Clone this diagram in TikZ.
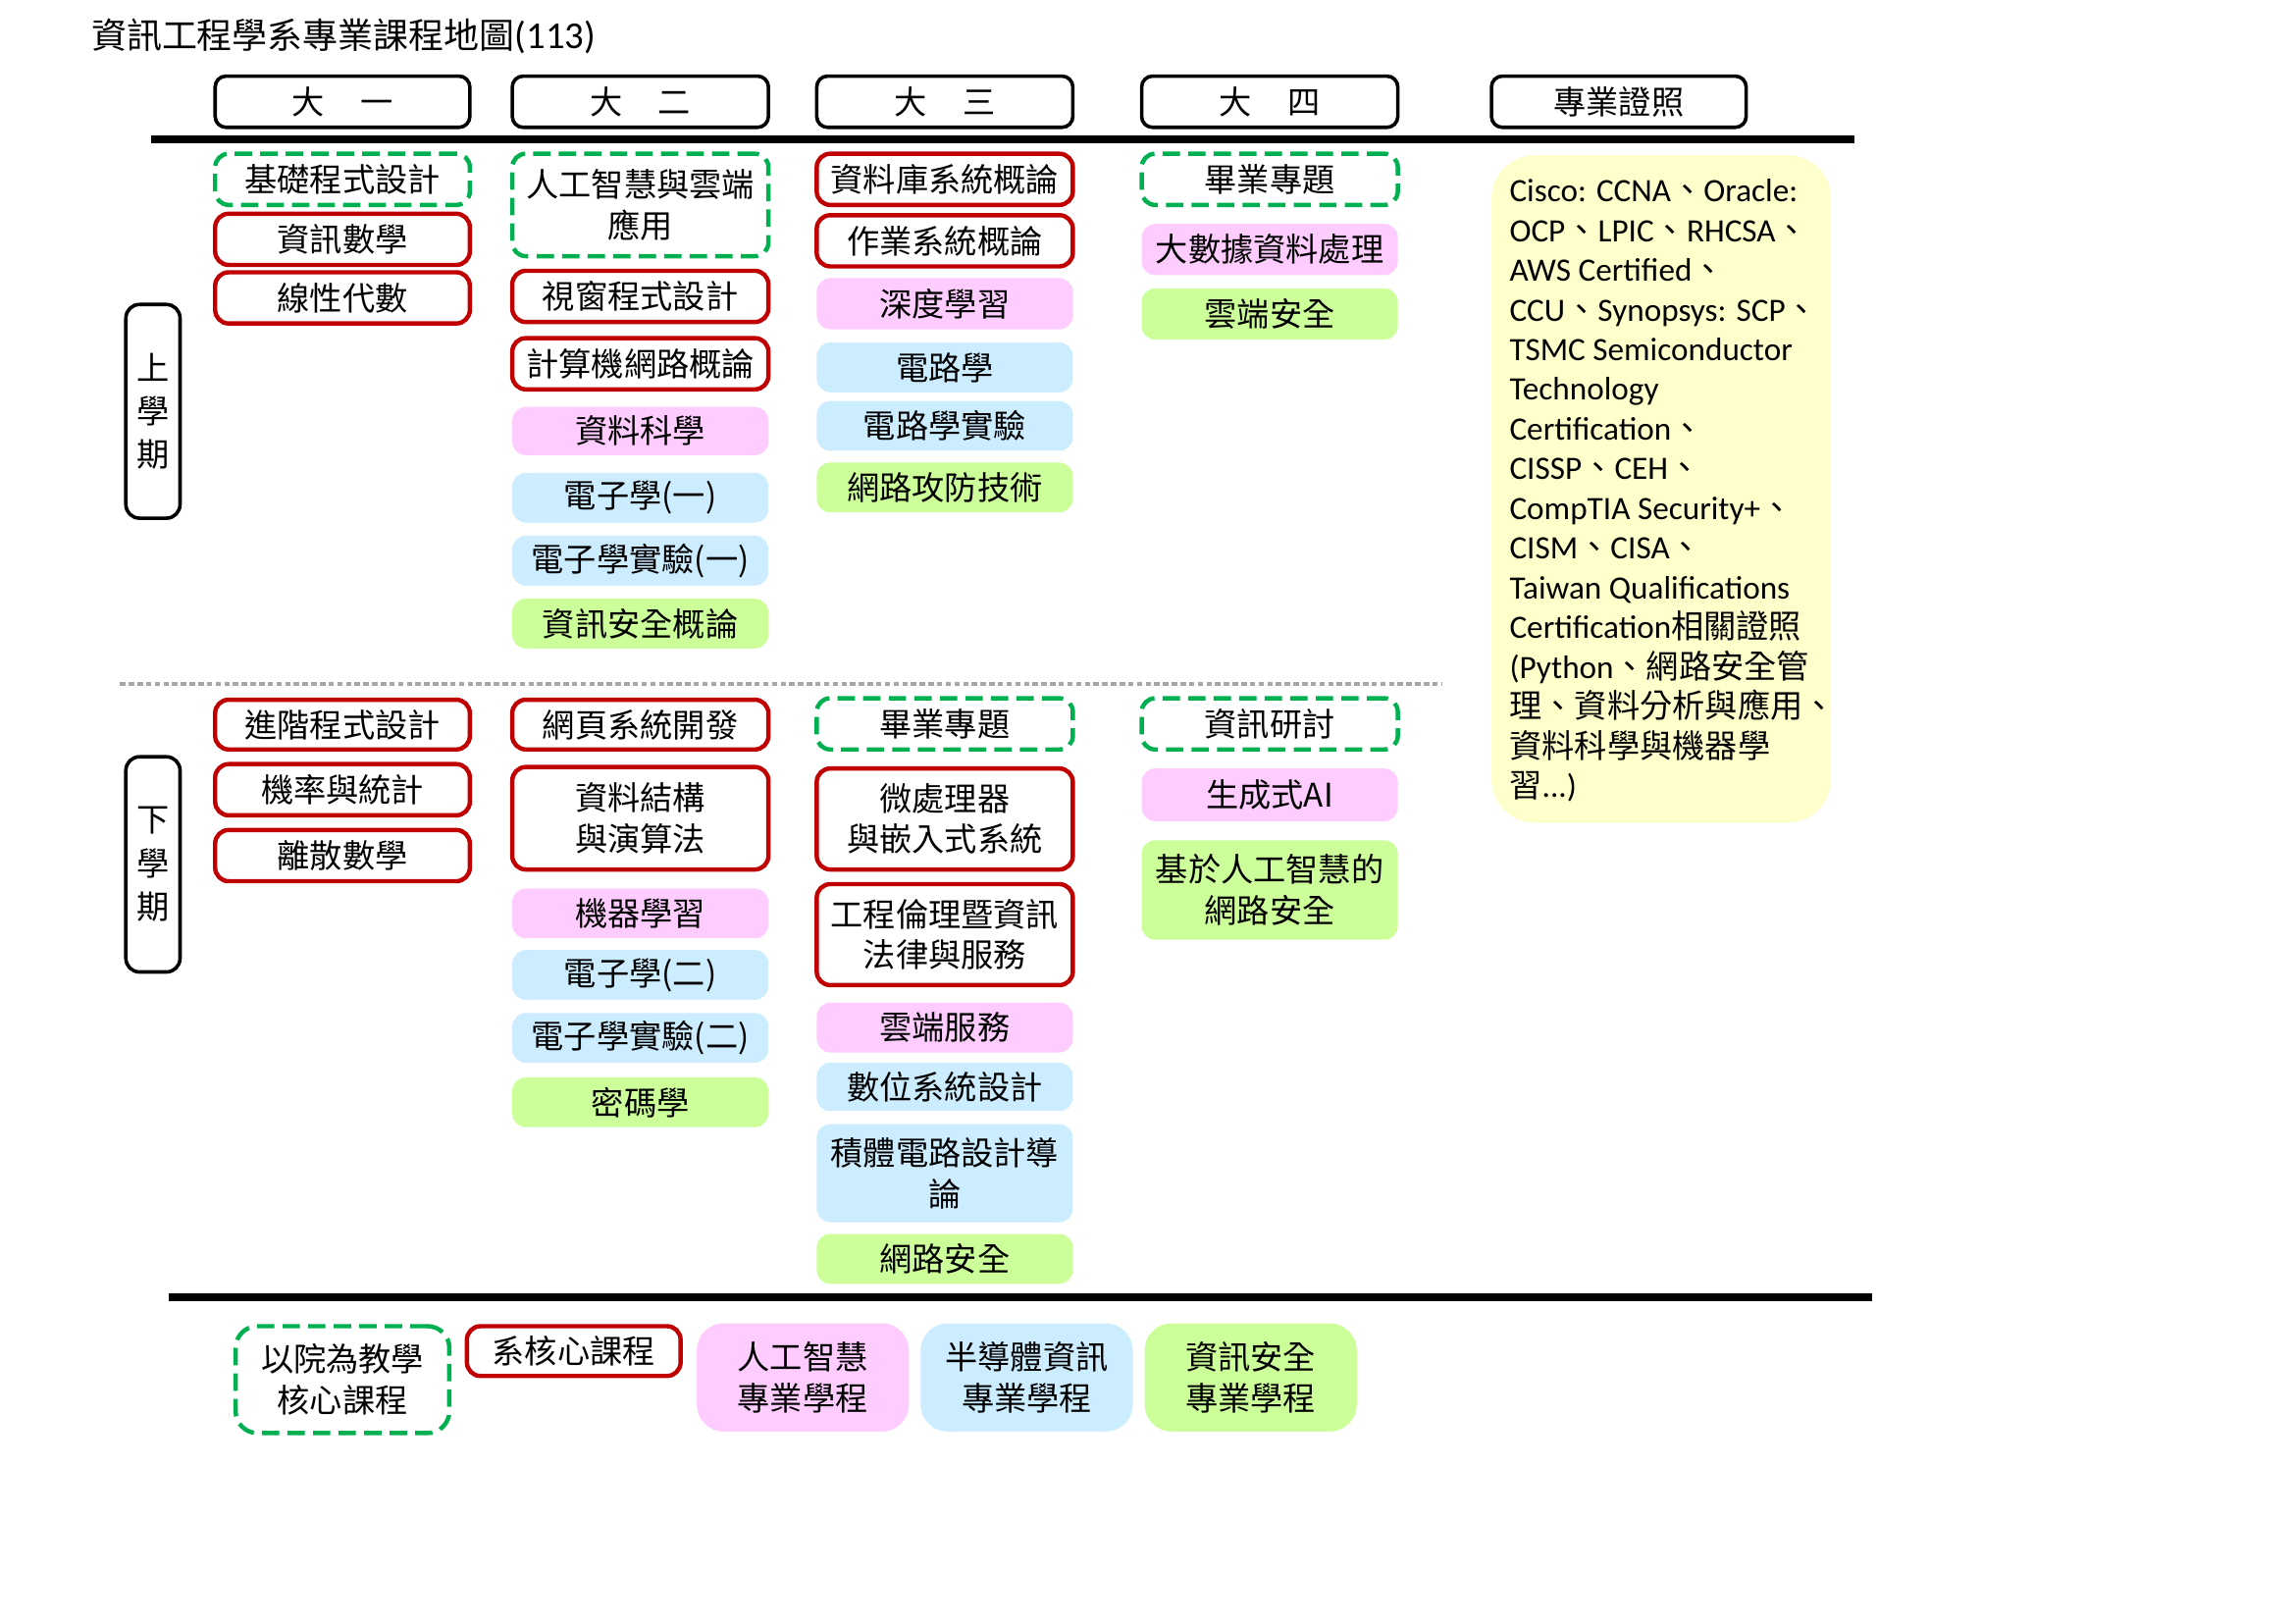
\documentclass[tikz,border=0pt]{standalone}
\usepackage{fontspec}
\setmainfont{Noto Sans CJK TC}
\newfontfamily\carlito{Carlito}
\newfontfamily\cjkf{Noto Sans CJK TC}
\definecolor{cred}{RGB}{192,0,0}
\definecolor{cgreen}{RGB}{0,176,80}
\definecolor{cpink}{RGB}{255,204,255}
\definecolor{cblue}{RGB}{204,236,255}
\definecolor{clime}{RGB}{204,255,153}
\definecolor{cyellow}{RGB}{255,255,204}
\definecolor{cgray}{RGB}{166,166,166}
\newcommand\crs[7]{\node[#2, minimum width={(#5-#3)*0.18941mm}, minimum height={(#6-#4)*0.18941mm}] (#1) at ({(#3+#5)/2},{(#4+#6)/2}) {#7};}
\newcommand\dun{{\cjkf 、}}
\begin{document}
\begin{tikzpicture}[x=0.18941mm, y=-0.18941mm,
  cbase/.style={inner sep=0pt, align=center, font=\fontsize{12}{15}\selectfont},
  redc/.style={cbase, draw=cred, line width=1.6pt, rounded corners=5pt, fill=white},
  dashc/.style={cbase, draw=cgreen, line width=1.6pt, dash pattern=on 6.4pt off 3pt, rounded corners=5pt, fill=white},
  pinkc/.style={cbase, fill=cpink, rounded corners=5pt},
  bluec/.style={cbase, fill=cblue, rounded corners=5pt},
  limec/.style={cbase, fill=clime, rounded corners=5pt},
  headc/.style={cbase, draw=black, line width=1.3pt, rounded corners=4pt},
  semc/.style={cbase, draw=black, line width=1.3pt, rounded corners=5pt, font=\fontsize{12}{16}\selectfont},
  certc/.style={cbase, fill=cyellow, rounded corners=16pt},
  rule/.style={line width=1mm},
  dotrule/.style={draw=cgray, line width=1.5pt, dash pattern=on 2pt off 1.2pt}
]
\useasboundingbox (0,0) rectangle (1568,1109);

% title
\node[anchor=west, inner sep=0pt, font=\fontsize{13}{15}\selectfont] (title) at (62,25) {資訊工程學系專業課程地圖{\carlito\fontsize{14}{15}\selectfont (113)}};

% headers
\crs{h1}{headc}{147}{52}{321}{87}{大\hspace{1.1em}一}
\crs{h2}{headc}{350}{52}{525}{87}{大\hspace{1.1em}二}
\crs{h3}{headc}{558}{52}{733}{87}{大\hspace{1.1em}三}
\crs{h4}{headc}{780}{52}{955}{87}{大\hspace{1.1em}四}
\crs{h5}{headc}{1019}{52}{1193}{87}{專業證照}

% rules
\coordinate (r1a) at (103,95); \coordinate (r1b) at (1267,95);
\coordinate (r2a) at (115,886); \coordinate (r2b) at (1279,886);
\coordinate (r3a) at (82,467); \coordinate (r3b) at (985,467);
\draw[rule] (r1a) -- (r1b);
\draw[rule] (r2a) -- (r2b);
\draw[dotrule] (r3a) -- (r3b);

% semesters
\crs{s1}{semc}{86}{208}{123}{354}{上\\學\\期}
\crs{s2}{semc}{86}{517}{123}{664}{下\\學\\期}

% column 1
\crs{a1}{dashc}{147}{105}{321}{140}{基礎程式設計}
\crs{a2}{redc}{147}{146}{321}{181}{資訊數學}
\crs{a3}{redc}{147}{186}{321}{221}{線性代數}
\crs{a4}{redc}{147}{478}{321}{512}{進階程式設計}
\crs{a5}{redc}{147}{522}{321}{557}{機率與統計}
\crs{a6}{redc}{147}{567}{321}{602}{離散數學}

% column 2
\crs{b1}{dashc}{350}{105}{525}{175}{人工智慧與雲端\\應用}
\crs{b2}{redc}{350}{185}{525}{220}{視窗程式設計}
\crs{b3}{redc}{350}{231}{525}{266}{計算機網路概論}
\crs{b4}{pinkc}{350}{278}{525}{311}{資料科學}
\crs{b5}{bluec}{350}{323}{525}{357}{電子學(一)}
\crs{b6}{bluec}{350}{366}{525}{400}{電子學實驗(一)}
\crs{b7}{limec}{350}{409}{525}{443}{資訊安全概論}
\crs{b8}{redc}{350}{478}{525}{512}{網頁系統開發}
\crs{b9}{redc}{350}{524}{525}{594}{資料結構\\與演算法}
\crs{b10}{pinkc}{350}{607}{525}{641}{機器學習}
\crs{b11}{bluec}{350}{649}{525}{683}{電子學(二)}
\crs{b12}{bluec}{350}{692}{525}{726}{電子學實驗(二)}
\crs{b13}{limec}{350}{736}{525}{770}{密碼學}

% column 3
\crs{c1}{redc}{558}{105}{733}{140}{資料庫系統概論}
\crs{c2}{redc}{558}{147}{733}{182}{作業系統概論}
\crs{c3}{pinkc}{558}{190}{733}{225}{深度學習}
\crs{c4}{bluec}{558}{234}{733}{268}{電路學}
\crs{c5}{bluec}{558}{274}{733}{308}{電路學實驗}
\crs{c6}{limec}{558}{316}{733}{350}{網路攻防技術}
\crs{c7}{dashc}{558}{477}{733}{512}{畢業專題}
\crs{c8}{redc}{558}{525}{733}{594}{微處理器\\與嵌入式系統}
\crs{c9}{redc}{558}{604}{733}{673}{工程倫理暨資訊\\法律與服務}
\crs{c10}{pinkc}{558}{685}{733}{719}{雲端服務}
\crs{c11}{bluec}{558}{726}{733}{759}{數位系統設計}
\crs{c12}{bluec}{558}{768}{733}{835}{積體電路設計導\\論}
\crs{c13}{limec}{558}{843}{733}{877}{網路安全}

% column 4
\crs{d1}{dashc}{780}{105}{955}{140}{畢業專題}
\crs{d2}{pinkc}{780}{153}{955}{188}{大數據資料處理}
\crs{d3}{limec}{780}{197}{955}{232}{雲端安全}
\crs{d4}{dashc}{780}{477}{955}{512}{資訊研討}
\crs{d5}{pinkc}{780}{525}{955}{561}{生成式AI}
\crs{d6}{limec}{780}{574}{955}{642}{基於人工智慧的\\網路安全}

% certificates
\crs{cert}{certc}{1019}{106}{1251}{562}{}
\node[anchor=north west, inner sep=0pt, align=left, font=\carlito\fontsize{12}{14.62}\selectfont] (certtext) at (1031,122) {%
Cisco: CCNA\dun Oracle:\\
OCP\dun LPIC\dun RHCSA\dun\\
AWS Certified\dun\\
CCU\dun Synopsys: SCP\dun\\
TSMC Semiconductor\\
Technology\\
Certification\dun\\
CISSP\dun CEH\dun\\
CompTIA Security+\dun\\
CISM\dun CISA\dun\\
Taiwan Qualifications\\
Certification{\cjkf 相關證照}\\
(Python\dun{\cjkf 網路安全管}\\
{\cjkf 理、資料分析與應用、}\\
{\cjkf 資料科學與機器學}\\
{\cjkf 習}...)};

% legend
\crs{l1}{dashc, rounded corners=8pt}{161}{906}{307}{979}{以院為教學\\核心課程}
\crs{l2}{redc}{319}{906}{465}{940}{系核心課程}
\crs{l3}{pinkc, rounded corners=10pt}{476}{904}{621}{978}{人工智慧\\專業學程}
\crs{l4}{bluec, rounded corners=10pt}{629}{904}{774}{978}{半導體資訊\\專業學程}
\crs{l5}{limec, rounded corners=10pt}{782}{904}{927}{978}{資訊安全\\專業學程}
\end{tikzpicture}
\end{document}
